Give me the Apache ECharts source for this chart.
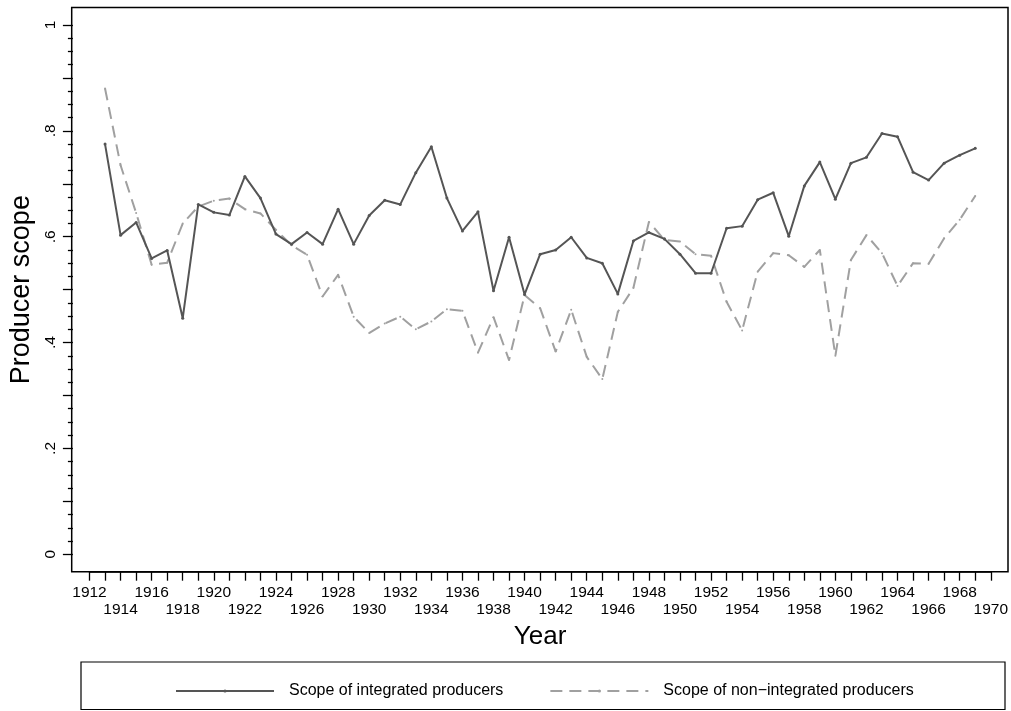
<!DOCTYPE html>
<html>
<head>
<meta charset="utf-8">
<script src="https://cdn.jsdelivr.net/npm/echarts@6/dist/echarts.min.js"></script>
<style>
html,body{margin:0;padding:0;background:#fff;}
#chart{width:1011px;height:711px;}
</style>
</head>
<body>
<div id="chart"></div>
<script>
const years = [1913,1914,1915,1916,1917,1918,1919,1920,1921,1922,1923,1924,1925,1926,1927,1928,1929,1930,1931,1932,1933,1934,1935,1936,1937,1938,1939,1940,1941,1942,1943,1944,1945,1946,1947,1948,1949,1950,1951,1952,1953,1954,1955,1956,1957,1958,1959,1960,1961,1962,1963,1964,1965,1966,1967,1968,1969];
const integrated = [0.775,0.603,0.627,0.559,0.574,0.446,0.661,0.646,0.641,0.714,0.673,0.605,0.586,0.608,0.586,0.652,0.586,0.640,0.669,0.661,0.721,0.770,0.673,0.611,0.647,0.498,0.599,0.491,0.567,0.575,0.599,0.560,0.550,0.492,0.592,0.608,0.596,0.567,0.531,0.531,0.616,0.620,0.670,0.683,0.601,0.696,0.741,0.671,0.739,0.750,0.795,0.789,0.722,0.707,0.739,0.754,0.767];
const nonIntegrated = [0.880,0.735,0.645,0.547,0.551,0.625,0.657,0.668,0.672,0.652,0.644,0.613,0.584,0.566,0.487,0.528,0.449,0.418,0.436,0.449,0.425,0.440,0.463,0.460,0.381,0.448,0.367,0.490,0.465,0.383,0.462,0.373,0.331,0.458,0.503,0.628,0.594,0.591,0.567,0.564,0.477,0.423,0.534,0.569,0.565,0.543,0.575,0.375,0.556,0.603,0.569,0.507,0.550,0.549,0.597,0.632,0.677];
const seriesNames = ['Scope of integrated producers', 'Scope of non\u2212integrated producers'];
const xTitle = 'Year';
const yTitle = 'Producer scope';

const FONT = "'Liberation Sans', Arial, Helvetica, sans-serif";
const chart = echarts.init(document.getElementById('chart'), null, {renderer: 'canvas'});

function pairs(vals) { return years.map((y, i) => [y, vals[i]]); }

chart.setOption({
  backgroundColor: '#ffffff',
  animation: false,
  textStyle: {fontFamily: FONT},
  grid: {left: 88.3, right: 19.3, top: 25, bottom: 156.7, containLabel: false},
  xAxis: {
    type: 'value', min: 1912, max: 1970, interval: 1,
    offset: 17.4,
    axisLine: {show: true, onZero: false, lineStyle: {color: '#000', width: 1.5}},
    axisTick: {show: true, length: 9, lineStyle: {color: '#000', width: 1.3}},
    splitLine: {show: false},
    axisLabel: {
      margin: 13, fontSize: 15.5, color: '#000', fontFamily: FONT, lineHeight: 17,
      formatter: function (v) {
        if (v % 2 !== 0) return '';
        return ((v - 1912) % 4 === 0) ? String(v) : '\n' + v;
      }
    },
    name: xTitle, nameLocation: 'middle', nameGap: 47,
    nameTextStyle: {fontSize: 26, color: '#000', fontFamily: FONT}
  },
  yAxis: {
    type: 'value', min: 0, max: 1, interval: 0.1,
    offset: 16.6,
    axisLine: {show: false, onZero: false},
    axisTick: {show: true, length: 10, lineStyle: {color: '#000', width: 1.3}},
    minorTick: {show: true, splitNumber: 4, length: 5, lineStyle: {color: '#000', width: 1.3}},
    splitLine: {show: false},
    minorSplitLine: {show: false},
    axisLabel: {
      rotate: 90, margin: 14, fontSize: 15.5, color: '#000', fontFamily: FONT,
      formatter: function (v) {
        const r = Math.round(v * 10);
        if (r % 2 !== 0) return '';
        if (r === 0) return '0';
        if (r === 10) return '1';
        return '.' + r;
      }
    },
    name: yTitle, nameLocation: 'middle', nameGap: 37,
    nameTextStyle: {fontSize: 27, color: '#000', fontFamily: FONT}
  },
  legend: {
    left: 170, top: 678,
    itemWidth: 98, itemHeight: 4, itemGap: 46,
    textStyle: {fontSize: 16, color: '#000', fontFamily: FONT, padding: [0, 0, 0, 10]},
    data: seriesNames
  },
  series: [
    {
      name: seriesNames[0], type: 'line', data: pairs(integrated),
      symbol: 'circle', symbolSize: 3, showSymbol: true,
      lineStyle: {color: '#555555', width: 2, type: 'solid'},
      itemStyle: {color: '#555555'},
      z: 3
    },
    {
      name: seriesNames[1], type: 'line', data: pairs(nonIntegrated),
      symbol: 'circle', symbolSize: 2, showSymbol: true,
      lineStyle: {color: '#a0a0a0', width: 2, type: [12, 7]},
      itemStyle: {color: '#a0a0a0'},
      z: 2
    }
  ],
  graphic: [
    {type: 'rect', shape: {x: 71.7, y: 7.5, width: 936.3, height: 564.2},
     style: {fill: 'none', stroke: '#000', lineWidth: 1.5}, silent: true, z: 10},
    {type: 'rect', shape: {x: 81, y: 662, width: 924, height: 47.5},
     style: {fill: 'none', stroke: '#000', lineWidth: 1.2}, silent: true, z: 10}
  ]
});
</script>
</body>
</html>
